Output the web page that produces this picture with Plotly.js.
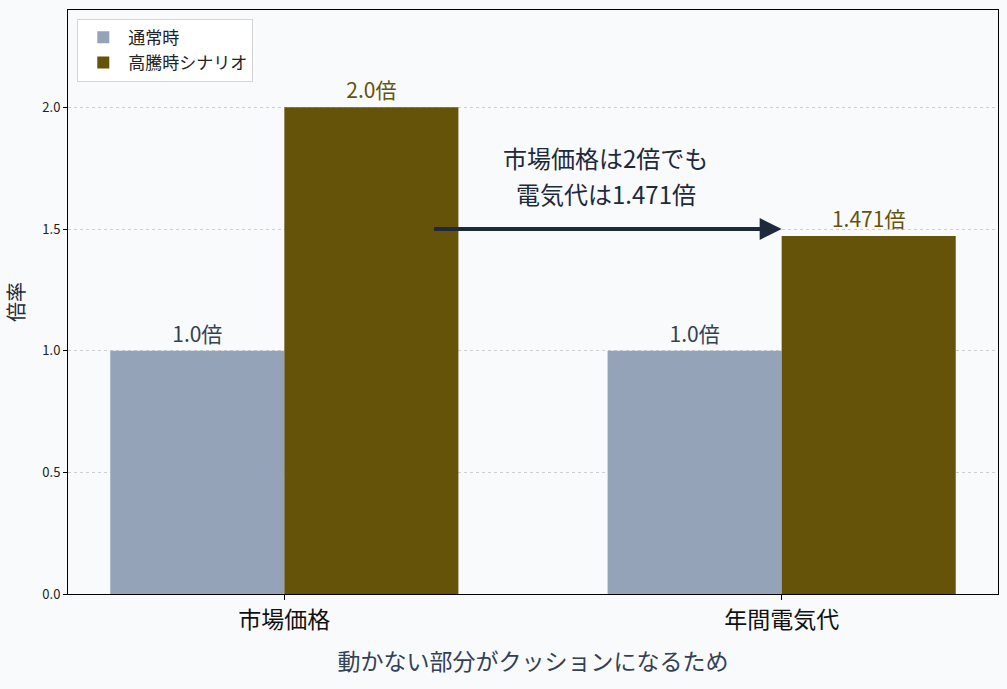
<!DOCTYPE html>
<html>
<head>
<meta charset="utf-8">
<script src="https://cdn.plot.ly/plotly-3.0.1.min.js"></script>
<style>
  html, body { margin: 0; padding: 0; background: #F8FAFC; }
  #chart { width: 1007px; height: 689px; }
</style>
</head>
<body>
<div id="chart"></div>
<script>
(function () {
    'use strict';

    // chart values
    var categories = ['市場価格', '年間電気代'];
    var normalValues = [1.0, 1.0];
    var surgeValues = [2.0, 1.471];
    var seriesNames = ['通常時', '高騰時シナリオ'];
    var yTicks = [0.0, 0.5, 1.0, 1.5, 2.0];
    var noteLines = ['市場価格は2倍でも', '電気代は1.471倍'];

    var FONT = '"Noto Sans CJK JP", "Noto Sans", sans-serif';
    var INK = '#1E293B';
    var GRAY = '#94A3B8';
    var OLIVE = '#65530A';

    // 1.0 -> "1.0倍", 1.471 -> "1.471倍"
    function label(v) {
        return (v === Math.round(v) ? v.toFixed(1) : String(v)) + '倍';
    }

    var xPos = categories.map(function (c, i) { return i; });

    var normal = {
        type: 'bar',
        name: seriesNames[0],
        x: xPos,
        y: normalValues,
        width: 0.35,
        offset: -0.35,
        marker: { color: GRAY },
        text: normalValues.map(label),
        textposition: 'outside',
        cliponaxis: false,
        textfont: { family: FONT, size: 21, color: '#334155' },
        hoverinfo: 'skip'
    };

    var surge = {
        type: 'bar',
        name: seriesNames[1],
        x: xPos,
        y: surgeValues,
        width: 0.35,
        offset: 0,
        marker: { color: OLIVE },
        text: surgeValues.map(label),
        textposition: 'outside',
        cliponaxis: false,
        textfont: { family: FONT, size: 21, color: OLIVE },
        hoverinfo: 'skip'
    };

    // the two note lines, stacked, each its own annotation
    var noteY = [1.795, 1.645];
    var notes = noteLines.map(function (t, i) {
        return {
            x: 0.646, y: noteY[i], xref: 'x', yref: 'y',
            showarrow: false,
            text: t,
            align: 'center',
            font: { family: FONT, size: 24, color: INK }
        };
    });

    var layout = {
        width: 1007,
        height: 689,
        margin: { l: 68, r: 9, t: 10, b: 95 },
        paper_bgcolor: '#F8FAFC',
        plot_bgcolor: '#F8FAFC',
        font: { family: FONT, color: INK },
        barmode: 'overlay',
        showlegend: true,
        legend: {
            x: 0.01, y: 0.985, xanchor: 'left', yanchor: 'top',
            bgcolor: '#FFFFFF',
            bordercolor: '#D4D4D4',
            borderwidth: 1,
            font: { family: FONT, size: 17, color: '#222222' },
            itemwidth: 40
        },
        xaxis: {
            range: [-0.435, 1.435],
            tickvals: xPos,
            ticktext: categories,
            ticks: 'outside',
            ticklen: 5,
            tickcolor: '#000000',
            tickfont: { family: FONT, size: 23, color: '#111111' },
            showgrid: false,
            zeroline: false,
            showline: true,
            mirror: true,
            linecolor: '#000000',
            linewidth: 1,
            title: {
                text: '動かない部分がクッションになるため',
                font: { family: FONT, size: 23, color: '#334155' },
                standoff: 20
            }
        },
        yaxis: {
            range: [0, 2.4],
            tickvals: yTicks,
            tickformat: '.1f',
            ticks: 'outside',
            ticklen: 4,
            tickcolor: '#000000',
            tickfont: { family: FONT, size: 13, color: '#222222' },
            showgrid: true,
            gridcolor: '#CFCFCF',
            griddash: 'dot',
            gridwidth: 1,
            zeroline: false,
            showline: true,
            mirror: true,
            linecolor: '#000000',
            linewidth: 1,
            title: {
                text: '倍率',
                font: { family: FONT, size: 20, color: INK },
                standoff: 12
            }
        },
        annotations: [
            {
                // arrow from the market price bar to the annual bill bar
                x: 1.0, y: 1.5, xref: 'x', yref: 'y',
                ax: 0.298, ay: 1.5, axref: 'x', ayref: 'y',
                showarrow: true,
                arrowhead: 2,
                arrowsize: 1.1,
                arrowwidth: 4,
                arrowcolor: INK,
                standoff: 0,
                text: ''
            }
        ].concat(notes)
    };

    Plotly.newPlot('chart', [normal, surge], layout, { displayModeBar: false, staticPlot: true });
})();
</script>
</body>
</html>
